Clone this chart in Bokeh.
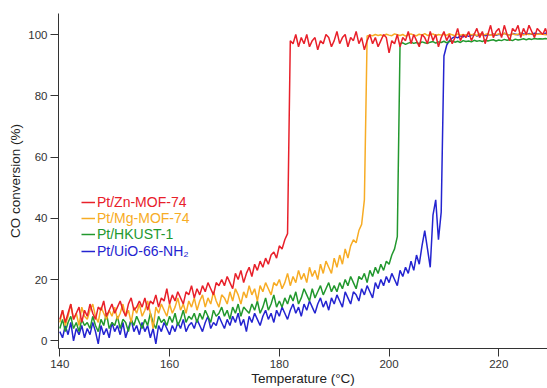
from bokeh.plotting import figure
from bokeh.models import Legend, LegendItem, FixedTicker, Range1d
from bokeh.embed import file_html
from bokeh.resources import INLINE

# Temperature grid (°C)
temperature = [
    140.0, 140.5, 141.0, 141.5, 142.0, 142.5, 143.0, 143.5, 144.0, 144.5,
    145.0, 145.5, 146.0, 146.5, 147.0, 147.5, 148.0, 148.5, 149.0, 149.5,
    150.0, 150.5, 151.0, 151.5, 152.0, 152.5, 153.0, 153.5, 154.0, 154.5,
    155.0, 155.5, 156.0, 156.5, 157.0, 157.5, 158.0, 158.5, 159.0, 159.5,
    160.0, 160.5, 161.0, 161.5, 162.0, 162.5, 163.0, 163.5, 164.0, 164.5,
    165.0, 165.5, 166.0, 166.5, 167.0, 167.5, 168.0, 168.5, 169.0, 169.5,
    170.0, 170.5, 171.0, 171.5, 172.0, 172.5, 173.0, 173.5, 174.0, 174.5,
    175.0, 175.5, 176.0, 176.5, 177.0, 177.5, 178.0, 178.5, 179.0, 179.5,
    180.0, 180.5, 181.0, 181.5, 182.0, 182.5, 183.0, 183.5, 184.0, 184.5,
    185.0, 185.5, 186.0, 186.5, 187.0, 187.5, 188.0, 188.5, 189.0, 189.5,
    190.0, 190.5, 191.0, 191.5, 192.0, 192.5, 193.0, 193.5, 194.0, 194.5,
    195.0, 195.5, 196.0, 196.5, 197.0, 197.5, 198.0, 198.5, 199.0, 199.5,
    200.0, 200.5, 201.0, 201.5, 202.0, 202.5, 203.0, 203.5, 204.0, 204.5,
    205.0, 205.5, 206.0, 206.5, 207.0, 207.5, 208.0, 208.5, 209.0, 209.5,
    210.0, 210.5, 211.0, 211.5, 212.0, 212.5, 213.0, 213.5, 214.0, 214.5,
    215.0, 215.5, 216.0, 216.5, 217.0, 217.5, 218.0, 218.5, 219.0, 219.5,
    220.0, 220.5, 221.0, 221.5, 222.0, 222.5, 223.0, 223.5, 224.0, 224.5,
    225.0, 225.5, 226.0, 226.5, 227.0, 227.5, 228.0, 228.5, 229.0,
]

# CO conversion (%)
zn_mof74 = [
    7, 10, 6, 9, 12, 7, 9, 11, 6, 10,
    8, 12, 9, 7, 11, 10, 13, 8, 10, 12,
    9, 11, 13, 10, 8, 12, 14, 10, 11, 13,
    11, 14, 10, 13, 12, 15, 11, 14, 13, 17,
    12, 15, 13, 16, 14, 12, 16, 15, 18, 14,
    17, 15, 18, 16, 19, 17, 15, 19, 18, 20,
    18, 21, 19, 17, 22, 20, 23, 19, 22, 24,
    21, 25, 23, 26, 24, 27, 25, 28, 29, 27,
    31, 30, 33, 35, 98, 97, 100, 96, 99, 97,
    100, 96, 98, 99, 95, 98, 97, 100, 99, 96,
    98, 101, 97, 99, 100, 96, 99, 98, 101, 97,
    99, 95, 98, 100, 97, 99, 96, 98, 100, 99,
    94, 98, 97, 100, 96, 99, 98, 101, 97, 100,
    98, 96, 100, 99, 97, 101, 98, 100, 96, 99,
    101, 98, 100, 97, 99, 102, 98, 100, 99, 101,
    98, 100, 102, 99, 101, 97, 100, 103, 99, 101,
    102, 99, 103, 100, 98, 102, 101, 103, 99, 102,
    100, 103, 101, 99, 102, 101, 100, 102, 99,
]

mg_mof74 = [
    6, 10, 5, 8, 12, 7, 9, 5, 11, 8,
    7, 10, 12, 8, 6, 11, 9, 7, 10, 8,
    11, 7, 9, 12, 8, 10, 6, 11, 9, 12,
    8, 10, 13, 9, 4, 11, 9, 12, 10, 8,
    12, 9, 11, 14, 10, 12, 9, 13, 11, 14,
    10, 13, 15, 11, 14, 12, 16, 13, 11, 15,
    14, 12, 16, 13, 17, 15, 12, 16, 14, 18,
    15, 17, 13, 18, 16, 19, 17, 15, 19, 18,
    20, 17, 19, 22, 18, 21, 19, 23, 20, 22,
    19, 24, 21, 23, 20, 25, 22, 26, 24, 22,
    27, 24, 28, 25, 30, 27, 31, 33, 32, 36,
    38, 46, 99.5, 99.8, 99.6, 100.0, 99.7, 99.9, 99.5, 100.1,
    99.8, 99.6, 100.2, 99.9, 99.7, 100.0, 99.5, 99.9, 100.2, 99.8,
    99.6, 100.1, 99.8, 100.3, 99.7, 99.9, 100.2, 99.6, 100.0, 99.8,
    100.1, 99.7, 100.3, 99.9, 99.6, 100.2, 99.8, 100.0, 99.7, 100.3,
    99.9, 100.1, 99.6, 100.4, 99.8, 100.0, 100.3, 99.7, 100.1, 99.9,
    100.2, 99.8, 100.4, 100.0, 99.7, 100.3, 99.9, 100.1, 100.4, 99.8,
    100.2, 100.0, 100.3, 99.9, 100.1, 100.2, 100.1, 99.9, 100.2,
]

hkust1 = [
    4, 7, 3, 6, 8, 4, 6, 3, 7, 5,
    6, 4, 8, 5, 3, 7, 5, 9, 4, 6,
    5, 8, 4, 7, 6, 3, 7, 5, 8, 6,
    4, 7, 5, 9, 6, 4, 8, 6, 7, 5,
    8, 6, 9, 5, 7, 10, 6, 8, 7, 9,
    6, 9, 7, 10, 8, 6, 10, 8, 9, 11,
    8, 10, 7, 11, 9, 12, 8, 11, 10, 9,
    12, 10, 13, 9, 11, 14, 10, 12, 15, 11,
    13, 11, 14, 12, 15, 13, 16, 12, 14, 17,
    15, 13, 17, 14, 16, 18, 15, 17, 19, 16,
    18, 16, 19, 17, 20, 18, 21, 19, 17, 21,
    20, 22, 19, 23, 21, 24, 22, 25, 23, 26,
    25, 28, 30, 34, 97.0, 97.3, 96.8, 97.2, 97.5, 97.1,
    97.4, 97.0, 97.6, 97.3, 97.1, 97.5, 97.7, 97.2, 97.6, 97.4,
    97.8, 97.3, 97.7, 97.9, 97.5, 97.8, 97.4, 98.0, 97.7, 97.9,
    97.6, 98.1, 97.8, 98.0, 97.7, 98.2, 97.9, 98.1, 98.3, 97.9,
    98.2, 98.0, 98.4, 98.1, 98.3, 98.0, 98.5, 98.2, 98.4, 98.6,
    98.3, 98.6, 98.4, 98.7, 98.5, 98.6, 98.5, 98.7, 98.6,
]

uio66_nh2 = [
    3, 1, 5, 2, 6, 0, 4, 2, 5, 1,
    4, 2, 6, 3, -1, 5, 2, 4, 1, 6,
    3, 5, 2, 6, 1, 4, 7, 3, 5, 2,
    6, 3, 5, 1, 4, -1, 5, 3, 6, 4,
    2, 5, 3, 6, 4, 7, 3, 5, 6, 4,
    7, 5, 3, 6, 8, 4, 6, 5, 8, 6,
    4, 7, 5, 8, 6, 9, 5, 7, 3, 8,
    6, 9, 7, 5, 8, 10, 7, 9, 6, 10,
    8, 11, 9, 7, 10, 12, 9, 11, 8, 12,
    10, 13, 11, 9, 12, 14, 11, 13, 10, 14,
    12, 15, 13, 11, 16, 14, 12, 16, 15, 13,
    17, 15, 18, 16, 14, 19, 17, 20, 18, 21,
    19, 22, 20, 18, 23, 21, 24, 22, 26, 23,
    28, 25, 31, 36, 30, 24, 41, 46, 33, 42,
    93, 96.5, 98.0, 98.8, 99.3, 98.9, 99.6, 99.2, 99.8, 99.4,
    99.7, 100.1, 99.5, 99.9, 100.3, 99.6, 100.0, 99.8, 100.2, 99.7,
    100.1, 99.9, 100.4, 100.0, 99.8, 100.3, 100.1, 99.9, 100.4, 100.2,
    100.0, 100.3, 100.1, 100.4, 100.2, 100.3, 100.2, 100.4, 100.1,
]

series_names = ["Pt/Zn-MOF-74", "Pt/Mg-MOF-74", "Pt/HKUST-1", "Pt/UiO-66-NH\u2082"]
series_values = [zn_mof74, mg_mof74, hkust1, uio66_nh2]
series_colors = ["#e8202a", "#f7ac25", "#22982e", "#2424d0"]

x_ticks = [140, 160, 180, 200, 220]
y_ticks = [0, 20, 40, 60, 80, 100]

FONT = "Liberation Sans"
AX = "#333333"

p = figure(
    width=547, height=388,
    output_backend="svg", toolbar_location=None,
    x_range=Range1d(139.76, 228.87), y_range=Range1d(-2.51, 106.86),
    min_border_left=58, min_border_right=0, min_border_top=13, min_border_bottom=40,
)
p.outline_line_color = None
p.xgrid.visible = False
p.ygrid.visible = False
p.background_fill_color = "white"
p.border_fill_color = "white"

# draw in reverse so red sits on top
renderers = {}
for name, vals, col in reversed(list(zip(series_names, series_values, series_colors))):
    r = p.line(temperature, vals, line_color=col, line_width=1.5)
    renderers[name] = r

for ax, ticks in ((p.xaxis[0], x_ticks), (p.yaxis[0], y_ticks)):
    ax.ticker = FixedTicker(ticks=ticks)
    ax.axis_line_color = AX
    ax.major_tick_line_color = AX
    ax.minor_tick_line_color = None
    ax.major_tick_in = 0
    ax.major_tick_out = 8
    ax.major_label_text_font = FONT
    ax.major_label_text_font_size = "11.5px"
    ax.major_label_text_color = AX
    ax.axis_label_text_font = FONT
    ax.axis_label_text_font_style = "normal"
    ax.axis_label_text_font_size = "13.5px"
    ax.axis_label_text_color = "#222222"

p.xaxis[0].axis_label = "Temperature (\u00b0C)"
p.xaxis[0].major_label_standoff = 3
p.xaxis[0].axis_label_standoff = 0
p.yaxis[0].axis_label = "CO conversion (%)"
p.yaxis[0].major_label_standoff = 3
p.yaxis[0].axis_label_standoff = 2

# one legend per series so each label takes its line colour
legend_offsets = [138, 122, 106, 89]
for name, col, vy in zip(series_names, series_colors, legend_offsets):
    leg = Legend(
        items=[LegendItem(label=name, renderers=[renderers[name]])],
        location=(23, vy),
        glyph_width=14, glyph_height=14, label_height=14,
        label_standoff=2, padding=0, margin=0, spacing=0,
        border_line_color=None, background_fill_alpha=0,
        label_text_color=col, label_text_font=FONT, label_text_font_size="14px",
    )
    p.add_layout(leg)

open("out.html", "w").write(file_html(p, INLINE))
